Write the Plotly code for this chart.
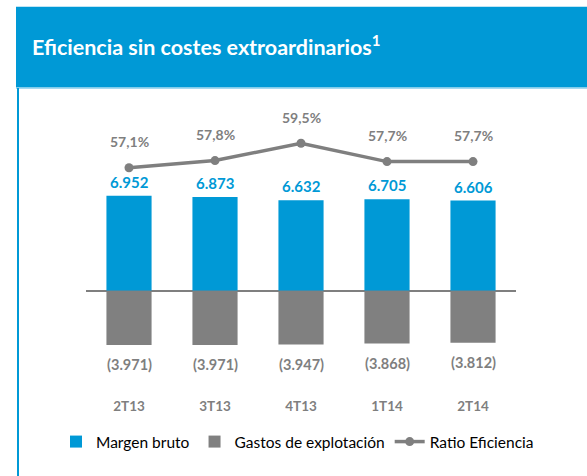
import plotly.graph_objects as go

# ---- data ----
categories = ["2T13", "3T13", "4T13", "1T14", "2T14"]
margen_bruto = [6952, 6873, 6632, 6705, 6606]
gastos_explotacion = [-3971, -3971, -3947, -3868, -3812]
ratio_eficiencia = [57.1, 57.8, 59.5, 57.7, 57.7]

BLUE = "#0099D6"
GRAY = "#808080"
LABEL_GRAY = "#7F7F7F"
FONT = "Lato"

W, H = 587, 476
L, R, T, B = 86, 71, 100, 80
PW, PH = W - L - R, H - T - B


def px_x(p):
    return (p - L) / PW


def px_y(p):
    return (H - B - p) / PH


def fmt_int(v):
    return f"{abs(v):,}".replace(",", ".")


def fmt_pct(v):
    return f"{v:.1f}".replace(".", ",") + "%"


fig = go.Figure()
fig.add_trace(go.Bar(
    x=categories, y=margen_bruto, name="Margen bruto",
    marker=dict(color=BLUE, line=dict(width=0)), width=0.525,
))
fig.add_trace(go.Bar(
    x=categories, y=gastos_explotacion, name="Gastos de explotación",
    marker=dict(color=GRAY, line=dict(width=0)), width=0.525,
))
fig.add_trace(go.Scatter(
    x=categories, y=ratio_eficiencia, name="Ratio Eficiencia", yaxis="y2",
    mode="lines+markers", line=dict(color=LABEL_GRAY, width=3.5),
    marker=dict(color=LABEL_GRAY, size=9),
))

annotations = []
for c, v in zip(categories, margen_bruto):
    annotations.append(dict(x=c, y=v, xref="x", yref="y", text=f"<b>{fmt_int(v)}</b>",
                            showarrow=False, yshift=14, yanchor="middle",
                            font=dict(family=FONT, size=15, color=BLUE)))
for c, v in zip(categories, gastos_explotacion):
    annotations.append(dict(x=c, y=v, xref="x", yref="y", text=f"<b>({fmt_int(v)})</b>",
                            showarrow=False, yshift=-20, yanchor="middle",
                            font=dict(family=FONT, size=14.5, color=LABEL_GRAY)))
for c, v in zip(categories, ratio_eficiencia):
    annotations.append(dict(x=c, y=v, xref="x", yref="y2", text=f"<b>{fmt_pct(v)}</b>",
                            showarrow=False, yshift=26, yanchor="middle",
                            font=dict(family=FONT, size=14, color=LABEL_GRAY)))

# title
annotations.append(dict(x=px_x(30), y=px_y(46), xref="paper", yref="paper",
                        xanchor="left", yanchor="middle", showarrow=False,
                        text="<b>Eficiencia sin costes extroardinarios<sup>1</sup></b>",
                        font=dict(family=FONT, size=21.5, color="white")))

shapes = [
    dict(type="rect", xref="paper", yref="paper", x0=px_x(16), x1=px_x(W + 5),
         y0=px_y(87.5), y1=px_y(6.7), fillcolor=BLUE, line=dict(width=0), layer="below"),
    dict(type="line", xref="paper", yref="paper", x0=px_x(16), x1=px_x(W + 5),
         y0=px_y(88.3), y1=px_y(88.3), line=dict(color="#8FD0EE", width=1)),
    dict(type="line", xref="paper", yref="paper", x0=px_x(18), x1=px_x(18),
         y0=px_y(88), y1=px_y(H + 5), line=dict(color=BLUE, width=2)),
]

fig.update_layout(
    width=W, height=H,
    margin=dict(l=L, r=R, t=T, b=B, pad=0),
    paper_bgcolor="white", plot_bgcolor="white",
    barmode="relative", bargap=0.475,
    font=dict(family=FONT, color="black"),
    showlegend=True,
    legend=dict(orientation="h", x=px_x(56), y=px_y(442), xanchor="left", yanchor="middle",
                font=dict(family=FONT, size=15.5, color="black"),
                bgcolor="rgba(0,0,0,0)", traceorder="normal"),
    xaxis=dict(showgrid=False, showline=False, zeroline=False, ticks="",
               tickfont=dict(family=FONT, size=13.5, color=LABEL_GRAY, weight="bold"),
               range=[-0.5, 4.5], fixedrange=True),
    yaxis=dict(range=[-7714, 13971], visible=True, showgrid=False, showticklabels=False,
               showline=False, zeroline=True, zerolinecolor=LABEL_GRAY, zerolinewidth=2,
               ticks="", fixedrange=True),
    yaxis2=dict(range=[34.65, 63.757], overlaying="y", visible=False, showgrid=False,
                fixedrange=True),
    annotations=annotations,
    shapes=shapes,
)

fig.write_html("out.html", config={"displayModeBar": False},
               post_script="document.body.style.margin='0';document.body.style.overflow='hidden';")
